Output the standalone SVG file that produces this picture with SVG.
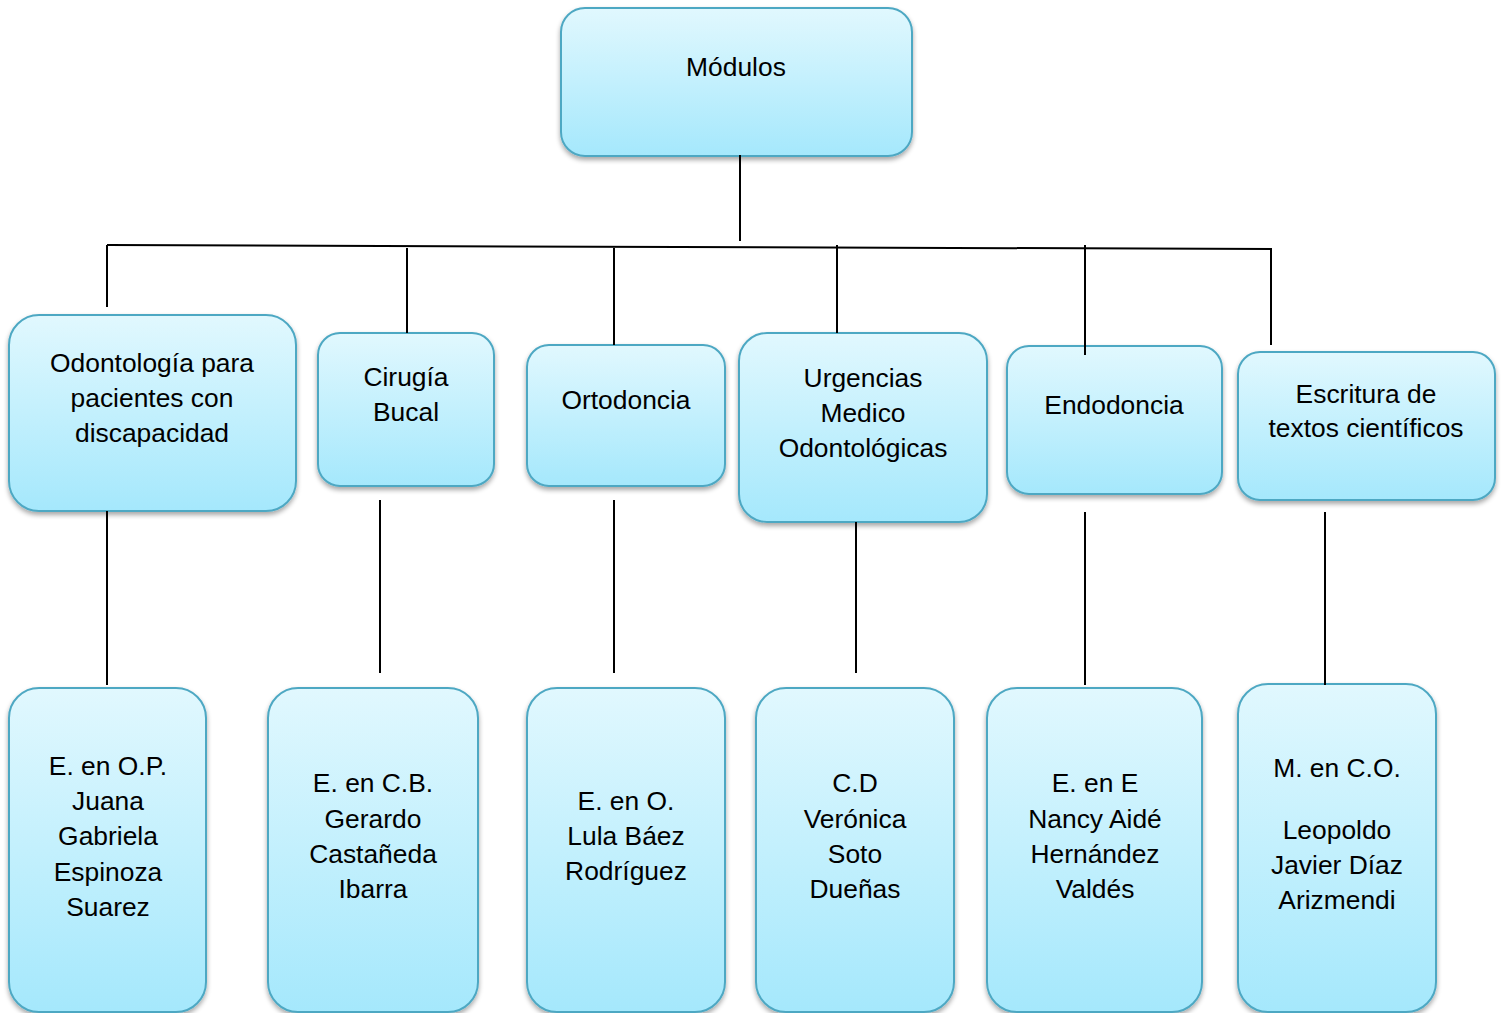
<svg xmlns="http://www.w3.org/2000/svg" width="1504" height="1013" viewBox="0 0 1504 1013">
<defs>
<linearGradient id="g" x1="0" y1="0" x2="0" y2="1">
<stop offset="0" stop-color="#e1f8fe"/>
<stop offset="1" stop-color="#a5e8fc"/>
</linearGradient>
<filter id="sh" x="-10%" y="-10%" width="120%" height="125%">
<feGaussianBlur in="SourceAlpha" stdDeviation="2.5"/>
<feOffset dx="0" dy="3" result="b"/>
<feComponentTransfer><feFuncA type="linear" slope="0.35"/></feComponentTransfer>
<feMerge><feMergeNode/><feMergeNode in="SourceGraphic"/></feMerge>
</filter>
</defs>
<style>
.box{fill:url(#g);stroke:#4ea8c3;stroke-width:2;filter:url(#sh)}
.t{font-family:"Liberation Sans",Arial,sans-serif;font-size:26.4px;fill:#000;text-anchor:middle}
.c line{stroke:#000;stroke-width:2}
</style>
<rect width="1504" height="1013" fill="#fff"/>
<g id="modulos"><rect class="box" x="561" y="8" width="351" height="148" rx="24"/><text class="t" x="736" y="76">Módulos</text></g>
<g id="odontologia"><rect class="box" x="9" y="315" width="287" height="196" rx="30"/><text class="t" x="152" y="372">Odontología para</text><text class="t" x="152" y="407">pacientes con</text><text class="t" x="152" y="442">discapacidad</text></g>
<g id="cirugia"><rect class="box" x="318" y="333" width="176" height="153" rx="22"/><text class="t" x="406" y="386">Cirugía</text><text class="t" x="406" y="421">Bucal</text></g>
<g id="ortodoncia"><rect class="box" x="527" y="345" width="198" height="141" rx="22"/><text class="t" x="626" y="409">Ortodoncia</text></g>
<g id="urgencias"><rect class="box" x="739" y="333" width="248" height="189" rx="28"/><text class="t" x="863" y="387">Urgencias</text><text class="t" x="863" y="422">Medico</text><text class="t" x="863" y="457">Odontológicas</text></g>
<g id="endodoncia"><rect class="box" x="1007" y="346" width="215" height="148" rx="22"/><text class="t" x="1114" y="414">Endodoncia</text></g>
<g id="escritura"><rect class="box" x="1238" y="352" width="257" height="148" rx="22"/><text class="t" x="1366" y="403">Escritura de</text><text class="t" x="1366" y="437">textos científicos</text></g>
<g id="p1"><rect class="box" x="9" y="688" width="197" height="324" rx="30"/><text class="t" x="108" y="775">E. en O.P.</text><text class="t" x="108" y="810">Juana</text><text class="t" x="108" y="845">Gabriela</text><text class="t" x="108" y="881">Espinoza</text><text class="t" x="108" y="916">Suarez</text></g>
<g id="p2"><rect class="box" x="268" y="688" width="210" height="324" rx="30"/><text class="t" x="373" y="792">E. en C.B.</text><text class="t" x="373" y="828">Gerardo</text><text class="t" x="373" y="863">Castañeda</text><text class="t" x="373" y="898">Ibarra</text></g>
<g id="p3"><rect class="box" x="527" y="688" width="198" height="324" rx="30"/><text class="t" x="626" y="810">E. en O.</text><text class="t" x="626" y="845">Lula Báez</text><text class="t" x="626" y="880">Rodríguez</text></g>
<g id="p4"><rect class="box" x="756" y="688" width="198" height="324" rx="30"/><text class="t" x="855" y="792">C.D</text><text class="t" x="855" y="828">Verónica</text><text class="t" x="855" y="863">Soto</text><text class="t" x="855" y="898">Dueñas</text></g>
<g id="p5"><rect class="box" x="987" y="688" width="215" height="324" rx="30"/><text class="t" x="1095" y="792">E. en E</text><text class="t" x="1095" y="828">Nancy Aidé</text><text class="t" x="1095" y="863">Hernández</text><text class="t" x="1095" y="898">Valdés</text></g>
<g id="p6"><rect class="box" x="1238" y="684" width="198" height="328" rx="30"/><text class="t" x="1337" y="777">M. en C.O.</text><text class="t" x="1337" y="839">Leopoldo</text><text class="t" x="1337" y="874">Javier Díaz</text><text class="t" x="1337" y="909">Arizmendi</text></g>
<g class="c" id="connectors">
<line x1="740" y1="155" x2="740" y2="241"/>
<line x1="107" y1="245" x2="1272" y2="249"/>
<line x1="107" y1="245" x2="107" y2="307"/>
<line x1="407" y1="248" x2="407" y2="333"/>
<line x1="614" y1="248" x2="614" y2="345"/>
<line x1="837" y1="245" x2="837" y2="333"/>
<line x1="1085" y1="245" x2="1085" y2="355"/>
<line x1="1271" y1="249" x2="1271" y2="345"/>
<line x1="107" y1="511" x2="107" y2="685"/>
<line x1="380" y1="500" x2="380" y2="673"/>
<line x1="614" y1="500" x2="614" y2="673"/>
<line x1="856" y1="522" x2="856" y2="673"/>
<line x1="1085" y1="512" x2="1085" y2="685"/>
<line x1="1325" y1="512" x2="1325" y2="685"/>
</g>
</svg>
